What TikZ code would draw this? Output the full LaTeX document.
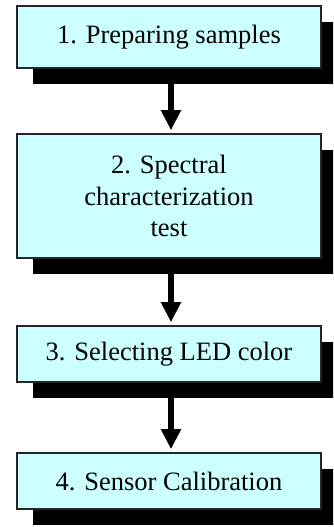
\documentclass[tikz,border=0pt]{standalone}
\usepackage{fontspec}
\setmainfont{Liberation Serif}
\usetikzlibrary{arrows.meta, shadows}
\definecolor{cPaso}{HTML}{CCFFFF}
\definecolor{cBorde}{HTML}{262626}

\begin{document}
\begin{tikzpicture}[
    x=1pt, y=1pt, font=\fontsize{26.5}{31.5}\selectfont,
    paso/.style={draw=cBorde, line width=1.6pt, fill=cPaso, align=center,
                 minimum width=304pt, inner sep=0pt,
                 general shadow={fill=black, shadow xshift=16pt,
                                 shadow yshift=-16pt}},
    flow/.style={-{Triangle[width=19pt, length=20pt]}, line width=6pt,
                 black, shorten >=3pt},
]

% ===========================================================================
% Marco de la figura
% ===========================================================================
\clip (0,0) rectangle (333,527);

% ----- Pasos del procedimiento -----
\node[paso, minimum height=62pt]  (prep) at (169,490) {1. Preparing samples};
\node[paso, minimum height=124pt] (spec) at (169,331)
      {2. Spectral\\characterization\\test};
\node[paso, minimum height=56pt]  (led)  at (169,173) {3. Selecting LED color};
\node[paso, minimum height=56pt]  (cal)  at (169,46)  {4. Sensor Calibration};

% ----- Flechas entre pasos -----
\foreach \a/\b in {prep/spec, spec/led, led/cal} {
    \draw[flow] ([xshift=2pt]\a.south) -- ([xshift=2pt]\b.north);
}

\end{tikzpicture}
\end{document}
